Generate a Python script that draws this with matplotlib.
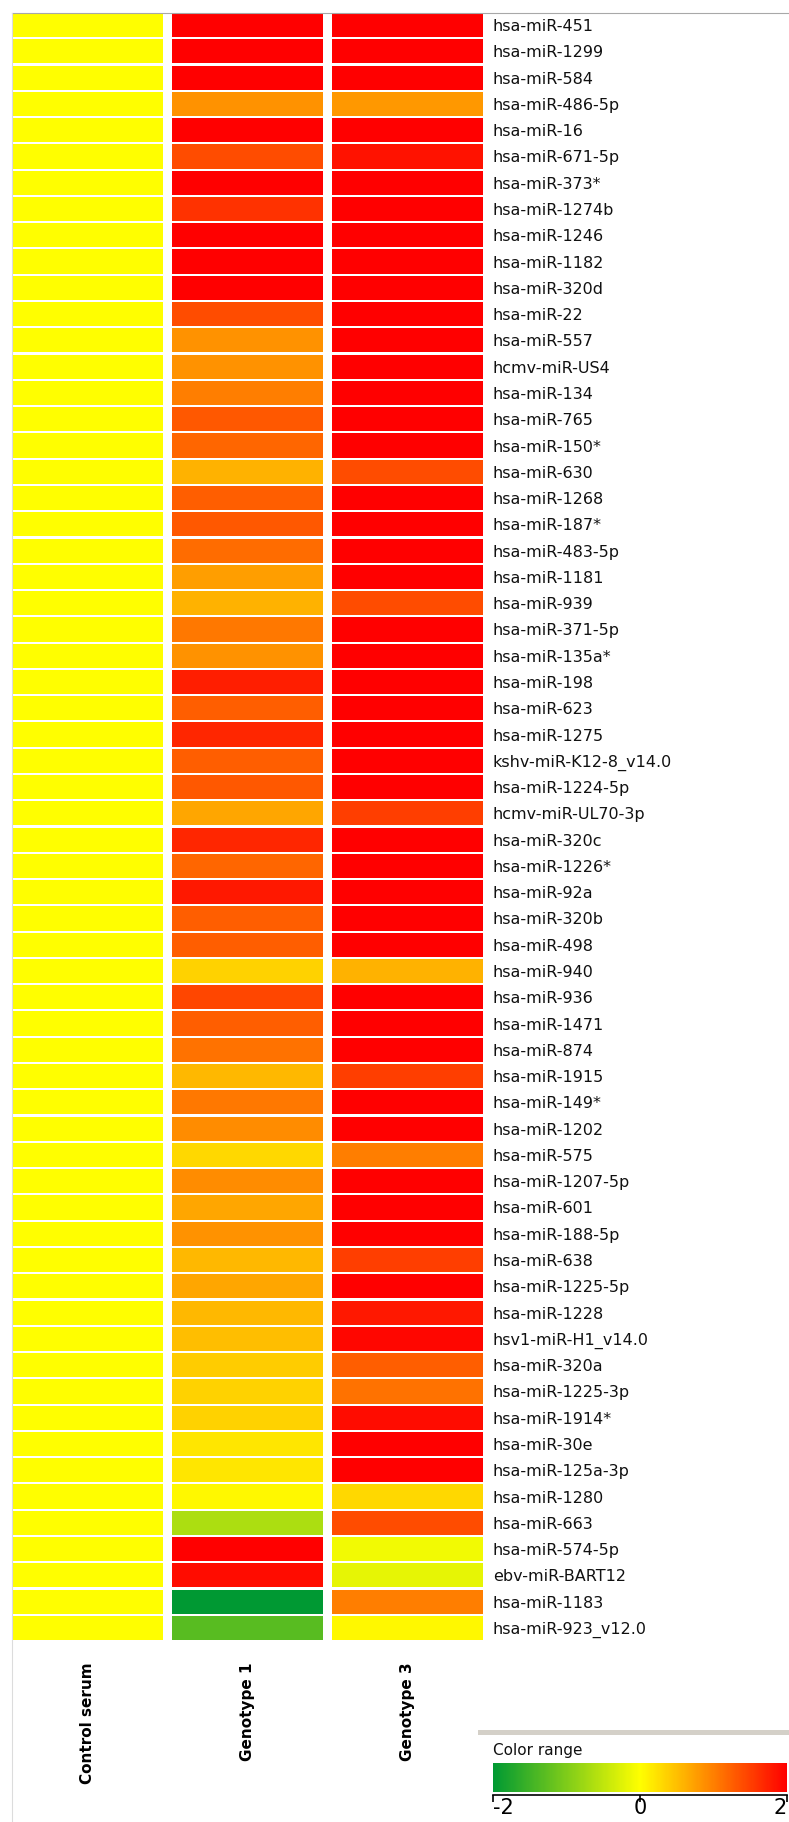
"""
Heatmap of miRNA expression (control serum vs genotype 1 / genotype 3)
with a green-yellow-red colour range legend.
"""
import matplotlib
matplotlib.use("Agg")
import numpy as np
import matplotlib.pyplot as plt
from matplotlib.colors import LinearSegmentedColormap, Normalize
from matplotlib.cm import ScalarMappable

W, H = 789, 1822

SAMPLES = ["Control serum", "Genotype 1", "Genotype 3"]

MIRNAS = [
    "hsa-miR-451", "hsa-miR-1299", "hsa-miR-584", "hsa-miR-486-5p", "hsa-miR-16",
    "hsa-miR-671-5p", "hsa-miR-373*", "hsa-miR-1274b", "hsa-miR-1246", "hsa-miR-1182",
    "hsa-miR-320d", "hsa-miR-22", "hsa-miR-557", "hcmv-miR-US4", "hsa-miR-134",
    "hsa-miR-765", "hsa-miR-150*", "hsa-miR-630", "hsa-miR-1268", "hsa-miR-187*",
    "hsa-miR-483-5p", "hsa-miR-1181", "hsa-miR-939", "hsa-miR-371-5p", "hsa-miR-135a*",
    "hsa-miR-198", "hsa-miR-623", "hsa-miR-1275", "kshv-miR-K12-8_v14.0", "hsa-miR-1224-5p",
    "hcmv-miR-UL70-3p", "hsa-miR-320c", "hsa-miR-1226*", "hsa-miR-92a", "hsa-miR-320b",
    "hsa-miR-498", "hsa-miR-940", "hsa-miR-936", "hsa-miR-1471", "hsa-miR-874",
    "hsa-miR-1915", "hsa-miR-149*", "hsa-miR-1202", "hsa-miR-575", "hsa-miR-1207-5p",
    "hsa-miR-601", "hsa-miR-188-5p", "hsa-miR-638", "hsa-miR-1225-5p", "hsa-miR-1228",
    "hsv1-miR-H1_v14.0", "hsa-miR-320a", "hsa-miR-1225-3p", "hsa-miR-1914*", "hsa-miR-30e",
    "hsa-miR-125a-3p", "hsa-miR-1280", "hsa-miR-663", "hsa-miR-574-5p", "ebv-miR-BART12",
    "hsa-miR-1183", "hsa-miR-923_v12.0",
]

CONTROL = [0.0] * 62

GENOTYPE1 = [
    2.0, 2.0, 2.0, 0.85, 2.0, 1.4, 2.0, 1.6, 2.0, 2.0,
    2.0, 1.4, 0.85, 0.85, 1.0, 1.3, 1.2, 0.6, 1.25, 1.3,
    1.15, 0.75, 0.6, 1.05, 0.85, 1.75, 1.25, 1.7, 1.25, 1.3,
    0.7, 1.7, 1.2, 1.8, 1.25, 1.25, 0.35, 1.45, 1.25, 1.1,
    0.55, 1.05, 0.9, 0.3, 0.9, 0.7, 0.85, 0.55, 0.7, 0.55,
    0.5, 0.4, 0.35, 0.35, 0.2, 0.2, 0.05, -0.65, 2.0, 1.9,
    -2.0, -1.3,
]

GENOTYPE3 = [
    2.0, 2.0, 2.0, 0.8, 2.0, 1.85, 2.0, 2.0, 2.0, 2.0,
    2.0, 2.0, 2.0, 2.0, 2.0, 2.0, 2.0, 1.4, 2.0, 2.0,
    2.0, 2.0, 1.4, 2.0, 2.0, 2.0, 2.0, 2.0, 2.0, 2.0,
    1.5, 2.0, 2.0, 2.0, 2.0, 2.0, 0.6, 2.0, 2.0, 2.0,
    1.5, 2.0, 2.0, 1.0, 2.0, 2.0, 2.0, 1.5, 2.0, 1.8,
    1.95, 1.25, 1.1, 1.9, 2.0, 2.0, 0.3, 1.4, -0.1, -0.2,
    1.0, 0.05,
]

CBAR_TICKS = [-2, 0, 2]


def main():
    cmap = LinearSegmentedColormap.from_list("gyr", ["#009933", "#ffff00", "#ff0000"])
    norm = Normalize(vmin=-2, vmax=2)

    fig = plt.figure(figsize=(W / 100, H / 100), dpi=100)
    fig.patch.set_facecolor("white")

    # thin panel border (left + top)
    fig.add_artist(plt.Line2D([12 / W, 1], [1 - 13 / H, 1 - 13 / H], color="#a8a8a8", lw=0.8))
    fig.add_artist(plt.Line2D([12 / W, 12 / W], [0, 1 - 13 / H], color="#dcdcdc", lw=0.8))

    ax = fig.add_axes([12 / W, 1 - 1640 / H, 471 / W, 1627 / H])
    rows = np.arange(len(MIRNAS))
    cell_w = 0.94
    for j, vals in enumerate([CONTROL, GENOTYPE1, GENOTYPE3]):
        ax.barh(rows, cell_w, left=j, height=0.92, color=cmap(norm(np.array(vals))),
                edgecolor="none")

    ax.set_xlim(0, 2 + cell_w)
    ax.set_ylim(len(MIRNAS) - 1 + 0.46, -0.46)
    for s in ax.spines.values():
        s.set_visible(False)

    ax.yaxis.tick_right()
    ax.set_yticks(rows)
    ax.set_yticklabels(MIRNAS, fontsize=11.5, color="#111111")
    ax.tick_params(axis="y", length=0, pad=7)

    ax.set_xticks(np.arange(3) + cell_w / 2)
    ax.set_xticklabels(SAMPLES, rotation=90, fontsize=11, fontweight="bold")
    ax.tick_params(axis="x", length=0, pad=16)

    # colour range legend
    fig.add_artist(plt.Rectangle((478 / W, 1 - 1735 / H), 311 / W, 5 / H,
                                 transform=fig.transFigure, color="#d4d0c8", lw=0))
    fig.text(493 / W, 1 - 1751 / H, "Color range", fontsize=11, va="center", ha="left",
             color="#111111")

    cax = fig.add_axes([493 / W, 1 - 1792 / H, 294 / W, 29 / H])
    cb = fig.colorbar(ScalarMappable(norm=norm, cmap=cmap), cax=cax, orientation="horizontal")
    cb.outline.set_visible(False)
    cb.set_ticks([])

    sax = fig.add_axes([493 / W, 1 - 1795 / H, 294 / W, 0.5 / H])
    sax.set_xlim(-2, 2)
    sax.set_yticks([])
    sax.patch.set_visible(False)
    for name, s in sax.spines.items():
        s.set_visible(name == "bottom")
    sax.spines["bottom"].set_linewidth(1.2)
    sax.set_xticks(CBAR_TICKS)
    sax.set_xticklabels([str(t) for t in CBAR_TICKS], fontsize=15)
    sax.tick_params(axis="x", direction="out", length=5, width=1.2, pad=-3)
    labels = sax.get_xticklabels()
    labels[0].set_ha("left")
    labels[-1].set_ha("right")

    fig.savefig("out.png", dpi=100)


if __name__ == "__main__":
    main()
